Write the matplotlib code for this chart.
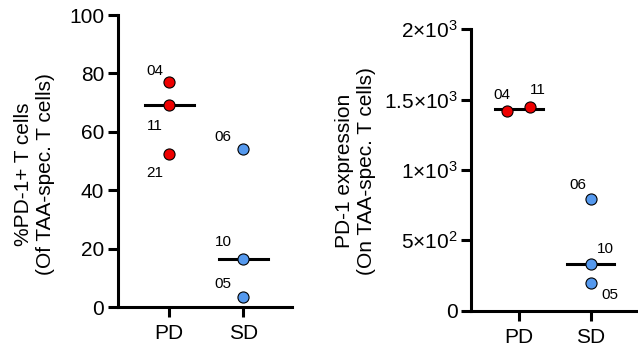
import matplotlib.pyplot as plt

plt.rcParams['font.family'] = ['Liberation Sans', 'DejaVu Sans']
plt.rcParams['mathtext.fontset'] = 'custom'
plt.rcParams['mathtext.rm'] = 'Liberation Sans'

groups = ['PD', 'SD']

# percent PD-1+ of TAA-specific T cells
pct_pd = [77.0, 69.1, 52.5]
pct_pd_ids = ['04', '11', '21']
pct_sd = [54.3, 16.4, 3.4]
pct_sd_ids = ['06', '10', '05']
pct_median = [69.1, 16.4]

# PD-1 expression on TAA-specific T cells
expr_pd = [1417, 1448]
expr_pd_ids = ['04', '11']
expr_sd = [792, 332, 197]
expr_sd_ids = ['06', '10', '05']
expr_median = [1432, 332]
expr_ticks = [0, 500, 1000, 1500, 2000]
expr_ticklabels = ['0', r'$\mathregular{5{\times}10^2}$', r'$\mathregular{1{\times}10^3}$',
                   r'$\mathregular{1.5{\times}10^3}$', r'$\mathregular{2{\times}10^3}$']

red = '#ee0000'
blue = '#5599ee'

fig = plt.figure(figsize=(6.38, 3.51), dpi=100)
ax1 = fig.add_axes([0.185, 0.125, 0.273, 0.832])
ax2 = fig.add_axes([0.739, 0.115, 0.259, 0.802])


def style(ax):
    for s in ['top', 'right']:
        ax.spines[s].set_visible(False)
    for s in ['left', 'bottom']:
        ax.spines[s].set_linewidth(2.2)
    ax.tick_params(width=2.2, length=7.5, labelsize=15, colors='black')
    ax.tick_params(axis='y', pad=2.5)
    ax.tick_params(axis='x', pad=5)
    ax.set_xticks([0, 1])
    ax.set_xticklabels(groups)


mk = dict(marker='o', ms=8, mec='black', mew=0.8, ls='none', zorder=3)

# left panel
style(ax1)
ax1.set_xlim(-0.69, 1.66)
ax1.set_ylim(0, 100)
ax1.set_yticks([0, 20, 40, 60, 80, 100])
for i, m in enumerate(pct_median):
    ax1.plot([i - 0.33, i + 0.33], [m, m], color='black', lw=2.2, zorder=2)
ax1.plot([0] * len(pct_pd), pct_pd, mfc=red, **mk)
ax1.plot([1] * len(pct_sd), pct_sd, mfc=blue, **mk)
pct_pd_off = [(-0.19, 11), (-0.19, -21), (-0.19, -19)]
for v, t, (dx, dy) in zip(pct_pd, pct_pd_ids, pct_pd_off):
    ax1.text(0 + dx, v + dy * 100 / 292, t, fontsize=11, ha='center', va='center')
pct_sd_off = [(-0.27, 12), (-0.27, 17), (-0.27, 13)]
for v, t, (dx, dy) in zip(pct_sd, pct_sd_ids, pct_sd_off):
    ax1.text(1 + dx, v + dy * 100 / 292, t, fontsize=11, ha='center', va='center')
ax1.set_ylabel('%PD-1+ T cells\n(Of TAA-spec. T cells)', fontsize=15)
ax1.yaxis.set_label_coords(-0.36, 0.454)

# right panel
style(ax2)
ax2.set_xlim(-0.66, 1.64)
ax2.set_ylim(0, 2000)
ax2.set_yticks(expr_ticks)
ax2.set_yticklabels(expr_ticklabels)
for i, m in enumerate(expr_median):
    ax2.plot([i - 0.33, i + 0.33], [m, m], color='black', lw=2.2, zorder=2)
pd_x = [-0.16, 0.155]
ax2.plot(pd_x, expr_pd, mfc=red, **mk)
ax2.plot([1] * len(expr_sd), expr_sd, mfc=blue, **mk)
expr_pd_off = [(-0.08, 16), (0.11, 17)]
for x, v, t, (dx, dy) in zip(pd_x, expr_pd, expr_pd_ids, expr_pd_off):
    ax2.text(x + dx, v + dy * 2000 / 281.4, t, fontsize=11, ha='center', va='center')
expr_sd_off = [(-0.18, 14), (0.2, 15), (0.27, -12)]
for v, t, (dx, dy) in zip(expr_sd, expr_sd_ids, expr_sd_off):
    ax2.text(1 + dx, v + dy * 2000 / 281.4, t, fontsize=11, ha='center', va='center')
ax2.set_ylabel('PD-1 expression\n(On TAA-spec. T cells)', fontsize=15)
ax2.yaxis.set_label_coords(-0.576, 0.496)

fig.savefig('out.png', dpi=100)
